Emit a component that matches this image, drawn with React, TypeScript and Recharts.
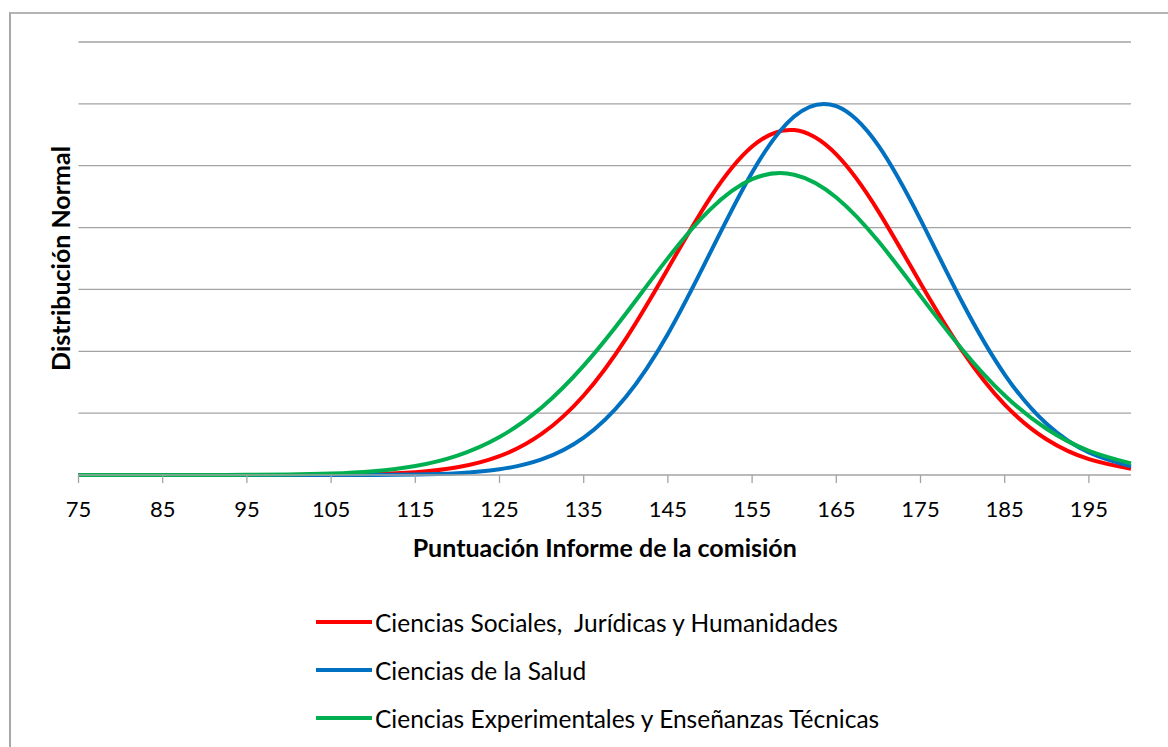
import React from 'react'
import { Legend, Line, LineChart, ReferenceLine, XAxis, YAxis } from 'recharts'

// puntuación (eje X), cada 5 puntos
const scores = [
  75, 80, 85, 90, 95, 100, 105, 110, 115, 120, 125, 130, 135, 140, 145, 150, 155, 160, 165, 170, 175, 180, 185,
  190, 195, 200,
]

const sociales = [
  0, 0, 0, 0, 0.000001, 0.000005, 0.00002, 0.00007, 0.00022, 0.00062, 0.00152, 0.00332, 0.00643, 0.01101, 0.01668,
  0.02238, 0.02655, 0.02788, 0.02591, 0.02131, 0.0155, 0.00999, 0.00569, 0.00287, 0.00128, 0.00051,
]

const salud = [
  0, 0, 0, 0, 0, 0, 0.000002, 0.000009, 0.00004, 0.00014, 0.00046, 0.00126, 0.00302, 0.0063, 0.0114, 0.01793,
  0.02446, 0.02898, 0.02981, 0.02662, 0.02064, 0.0139, 0.00812, 0.00412, 0.00182, 0.0007,
]

const experimentales = [
  0, 0, 0.000001, 0.000004, 0.000014, 0.00004, 0.00012, 0.00031, 0.00073, 0.00157, 0.00307, 0.00546, 0.00884, 0.01304,
  0.01753, 0.02145, 0.02391, 0.02427, 0.02243, 0.01889, 0.01448, 0.01011, 0.00643, 0.00372, 0.00196, 0.00094,
]

const xTicks = [75, 85, 95, 105, 115, 125, 135, 145, 155, 165, 175, 185, 195]
const yTicks = [0.005, 0.01, 0.015, 0.02, 0.025, 0.03, 0.035]
const seriesOrder = ['sociales', 'salud', 'experimentales']

const data = scores.map((x, i) => ({
  x,
  sociales: sociales[i],
  salud: salud[i],
  experimentales: experimentales[i],
}))

const FONT = 'Lato, "Noto Sans", sans-serif'
const GRID = '#a3a3a3'

function LegendBox(props: any) {
  const items = [...(props.payload || [])].sort(
    (a: any, b: any) => seriesOrder.indexOf(a.dataKey) - seriesOrder.indexOf(b.dataKey),
  )
  return (
    <div style={{ fontFamily: FONT, fontSize: 24.5, color: '#000' }}>
      {items.map((it: any) => (
        <div key={it.value} style={{ display: 'flex', alignItems: 'center', height: 48 }}>
          <span style={{ display: 'inline-block', width: 56, height: 4, background: it.color }} />
          <span style={{ marginLeft: 3, whiteSpace: 'pre' }}>{it.value}</span>
        </div>
      ))}
    </div>
  )
}

export default function App() {
  return (
    <div style={{ position: 'absolute', left: 0, top: 0, width: 1168, height: 747, background: '#fff', overflow: 'hidden' }}>
      <div
        style={{
          position: 'absolute',
          left: 9,
          top: 12,
          width: 1300,
          height: 900,
          borderLeft: '2px solid #a8a8a8',
          borderTop: '2px solid #b4b4b4',
        }}
      />
      <div style={{ position: 'absolute', left: 0, top: 0 }}>
        <LineChart width={1168} height={747} data={data} margin={{ top: 42, right: 37, bottom: 182, left: 43.5 }}>
          {yTicks.map((v) => (
            <ReferenceLine key={v} y={v} stroke={GRID} strokeWidth={1.3} />
          ))}
          <XAxis
            dataKey="x"
            type="number"
            domain={[75, 200]}
            ticks={xTicks}
            interval={0}
            height={90}
            tickSize={8}
            tickMargin={18}
            axisLine={{ stroke: GRID, strokeWidth: 1.3 }}
            tickLine={{ stroke: GRID, strokeWidth: 1.3 }}
            tick={{ fill: '#000', fontSize: 22, fontFamily: FONT }}
            label={{
              value: 'Puntuación Informe de la comisión',
              position: 'insideBottom',
              offset: 8,
              style: { fill: '#000', fontSize: 25, fontWeight: 700, fontFamily: FONT },
            }}
          />
          <YAxis
            type="number"
            domain={[0, 0.035]}
            width={35}
            tick={false}
            tickLine={false}
            axisLine={false}
            label={{
              value: 'Distribución Normal',
              angle: -90,
              position: 'center',
              style: { fill: '#000', fontSize: 25, fontWeight: 700, fontFamily: FONT },
            }}
          />
          <Legend
            layout="vertical"
            align="center"
            verticalAlign="middle"
            wrapperStyle={{ left: 316, top: 598, width: 'auto', height: 'auto' }}
            content={LegendBox}
          />
          <Line
            type="natural"
            dataKey="sociales"
            name="Ciencias Sociales,  Jurídicas y Humanidades"
            stroke="#ff0000"
            strokeWidth={4}
            dot={false}
            isAnimationActive={false}
          />
          <Line
            type="natural"
            dataKey="salud"
            name="Ciencias de la Salud"
            stroke="#0070c0"
            strokeWidth={4}
            dot={false}
            isAnimationActive={false}
          />
          <Line
            type="natural"
            dataKey="experimentales"
            name="Ciencias Experimentales y Enseñanzas Técnicas"
            stroke="#00b050"
            strokeWidth={4}
            dot={false}
            isAnimationActive={false}
          />
        </LineChart>
      </div>
    </div>
  )
}
